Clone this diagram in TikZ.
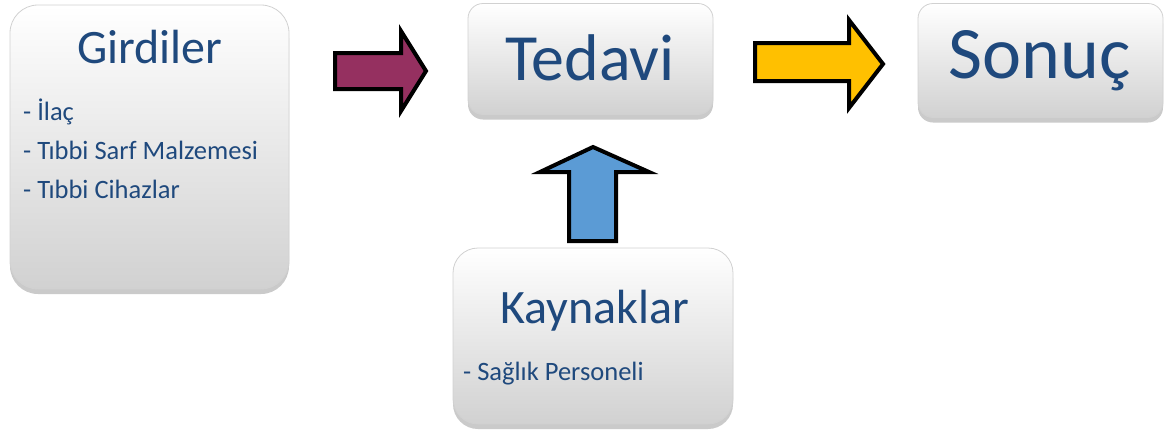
\documentclass[tikz,border=0pt]{standalone}
\usepackage{fontspec}
\setmainfont{Carlito}
\usetikzlibrary{shadows}
\definecolor{txtblue}{HTML}{1F497D}
\definecolor{plum}{HTML}{953060}
\definecolor{skyblue}{HTML}{5B9BD5}
\definecolor{amber}{HTML}{FFC000}
\begin{document}
\begin{tikzpicture}[x=1pt,y=-1pt,
  box/.style={draw=black!18, line width=0.8pt, top color=white, bottom color=black!18,
    drop shadow={shadow xshift=0pt, shadow yshift=-5pt, opacity=0.35, fill=black!60},
    inner sep=0pt},
  title/.style={text=txtblue, anchor=base, inner sep=0pt},
  item/.style={text=txtblue, anchor=base west, inner sep=0pt, font=\fontsize{26.5}{29}\selectfont},
  blockarrow/.style={draw=black, line width=4pt, line join=miter, miter limit=10}]
\useasboundingbox (0,0) rectangle (1173,432);

% boxes
\node[box, rounded corners=28pt, minimum width=279pt, minimum height=284pt] (gir) at (149.5,147) {};
\node[box, rounded corners=15pt, minimum width=245pt, minimum height=111pt] (ted) at (590.5,59) {};
\node[box, rounded corners=15pt, minimum width=245pt, minimum height=114pt] (son) at (1040.5,60.5) {};
\node[box, rounded corners=25pt, minimum width=280pt, minimum height=176pt] (kay) at (593,336) {};

% titles
\node[title, font=\fontsize{48}{52}\selectfont] (girT) at (150,63) {Girdiler};
\node[title, font=\fontsize{66}{70}\selectfont] (tedT) at (590,80) {Tedavi};
\node[title, font=\fontsize{74}{78}\selectfont] (sonT) at (1040,78) {Sonuç};
\node[title, font=\fontsize{48}{52}\selectfont] (kayT) at (595,323) {Kaynaklar};

% list entries
\node[item] (i1) at (23,120) {- İlaç};
\node[item] (i2) at (23,159) {- Tıbbi Sarf Malzemesi};
\node[item] (i3) at (23,198) {- Tıbbi Cihazlar};
\node[item] (k1) at (463,380) {- Sağlık Personeli};

% block arrows
\draw[blockarrow, fill=plum] (335,53) -- (401,53) -- (401,31) -- (426,71) -- (401,111) -- (401,89) -- (335,89) -- cycle;
\draw[blockarrow, fill=amber] (755,43) -- (849,43) -- (849,20) -- (883,64) -- (849,108) -- (849,81) -- (755,81) -- cycle;
\draw[blockarrow, fill=skyblue] (569,241) -- (569,172) -- (540,172) -- (593,147) -- (649,172) -- (616,172) -- (616,241) -- cycle;
\end{tikzpicture}
\end{document}
